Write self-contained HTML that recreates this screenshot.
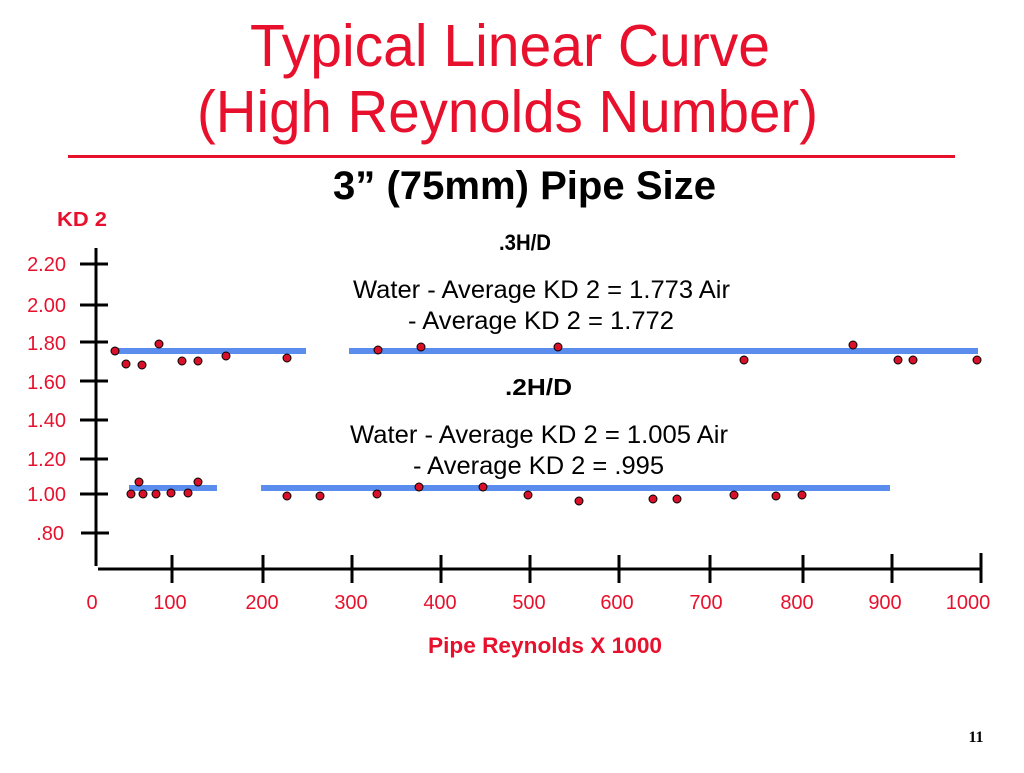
<!DOCTYPE html>
<html><head><meta charset="utf-8"><style>
body{margin:0;background:#fff;width:1024px;height:768px;overflow:hidden;font-family:"Liberation Sans",sans-serif;}
</style></head><body>
<svg width="1024" height="768" xmlns="http://www.w3.org/2000/svg" font-family="Liberation Sans, sans-serif">
<text x="250" y="66" textLength="520" lengthAdjust="spacingAndGlyphs" font-size="59" fill="#e8112d">Typical Linear Curve</text>
<text x="197" y="132" textLength="621" lengthAdjust="spacingAndGlyphs" font-size="59" fill="#e8112d">(High Reynolds Number)</text>
<rect x="68" y="155" width="887" height="3" fill="#e8112d"/>
<text x="333" y="199" textLength="383" lengthAdjust="spacingAndGlyphs" font-size="40" font-weight="bold" fill="#000">3” (75mm) Pipe Size</text>
<text x="57" y="226" textLength="50" lengthAdjust="spacingAndGlyphs" font-size="20" font-weight="bold" fill="#e8112d">KD 2</text>
<g font-size="25" fill="#000">
<text x="499" y="250" textLength="52" lengthAdjust="spacingAndGlyphs" font-weight="bold" font-size="22">.3H/D</text>
<text x="353" y="298" textLength="377" lengthAdjust="spacingAndGlyphs">Water - Average KD 2 = 1.773 Air</text>
<text x="408" y="329" textLength="266" lengthAdjust="spacingAndGlyphs">- Average KD 2 = 1.772</text>
<text x="505" y="395" textLength="67" lengthAdjust="spacingAndGlyphs" font-weight="bold" font-size="23">.2H/D</text>
<text x="350" y="443" textLength="378" lengthAdjust="spacingAndGlyphs">Water - Average KD 2 = 1.005 Air</text>
<text x="413" y="474" textLength="251" lengthAdjust="spacingAndGlyphs">- Average KD 2 = .995</text>
</g>
<g stroke="#000" stroke-width="3">
<line x1="96" y1="248" x2="96" y2="566"/>
<line x1="98" y1="569" x2="982" y2="569"/>
<line x1="80" y1="264" x2="108" y2="264"/><line x1="80" y1="305" x2="108" y2="305"/>
<line x1="80" y1="342" x2="108" y2="342"/><line x1="80" y1="381" x2="108" y2="381"/>
<line x1="80" y1="420" x2="108" y2="420"/><line x1="80" y1="459" x2="108" y2="459"/>
<line x1="80" y1="494" x2="108" y2="494"/><line x1="81" y1="533" x2="109" y2="533"/>
<line x1="172" y1="555" x2="172" y2="583"/><line x1="263" y1="555" x2="263" y2="583"/>
<line x1="352" y1="555" x2="352" y2="583"/><line x1="441" y1="555" x2="441" y2="583"/>
<line x1="530" y1="555" x2="530" y2="583"/><line x1="619" y1="555" x2="619" y2="583"/>
<line x1="710" y1="555" x2="710" y2="583"/><line x1="803" y1="555" x2="803" y2="583"/>
<line x1="892" y1="554" x2="892" y2="583"/><line x1="981" y1="553" x2="981" y2="583"/>
</g>
<g font-size="20" fill="#e8112d" text-anchor="end">
<text x="66" y="271">2.20</text><text x="66" y="312">2.00</text><text x="66" y="350">1.80</text>
<text x="66" y="389">1.60</text><text x="66" y="427">1.40</text><text x="66" y="466">1.20</text>
<text x="66" y="501">1.00</text><text x="64" y="540">.80</text>
</g>
<g font-size="20" fill="#e8112d" text-anchor="middle">
<text x="92" y="609">0</text><text x="170" y="609">100</text><text x="262" y="609">200</text>
<text x="351" y="609">300</text><text x="440" y="609">400</text><text x="529" y="609">500</text>
<text x="617" y="609">600</text><text x="706" y="609">700</text><text x="797" y="609">800</text>
<text x="885" y="609">900</text><text x="968" y="609">1000</text>
</g>
<text x="428" y="653" textLength="234" lengthAdjust="spacingAndGlyphs" font-size="22" font-weight="bold" fill="#e8112d">Pipe Reynolds X 1000</text>
<text x="976" y="742" text-anchor="middle" font-size="16" font-family="Liberation Serif, serif" font-weight="bold">11</text>
<g fill="#5b8def">
<rect x="115" y="348" width="191" height="6"/><rect x="349" y="348" width="629" height="6"/>
<rect x="129" y="485" width="88" height="6"/><rect x="261" y="485" width="629" height="6"/>
</g>
<g fill="#d8102a" stroke="#000" stroke-width="1">
<circle cx="115" cy="351" r="4"/><circle cx="126" cy="364" r="4"/><circle cx="142" cy="365" r="4"/>
<circle cx="159" cy="344" r="4"/><circle cx="182" cy="361" r="4"/><circle cx="198" cy="361" r="4"/>
<circle cx="226" cy="356" r="4"/><circle cx="287" cy="358" r="4"/><circle cx="378" cy="350" r="4"/>
<circle cx="421" cy="347" r="4"/><circle cx="558" cy="347" r="4"/><circle cx="744" cy="360" r="4"/>
<circle cx="853" cy="345" r="4"/><circle cx="898" cy="360" r="4"/><circle cx="913" cy="360" r="4"/>
<circle cx="977" cy="360" r="4"/>
<circle cx="131" cy="494" r="4"/><circle cx="139" cy="482" r="4"/><circle cx="143" cy="494" r="4"/>
<circle cx="156" cy="494" r="4"/><circle cx="171" cy="493" r="4"/><circle cx="188" cy="493" r="4"/>
<circle cx="198" cy="482" r="4"/><circle cx="287" cy="496" r="4"/><circle cx="320" cy="496" r="4"/>
<circle cx="377" cy="494" r="4"/><circle cx="419" cy="487" r="4"/><circle cx="483" cy="487" r="4"/>
<circle cx="528" cy="495" r="4"/><circle cx="579" cy="501" r="4"/><circle cx="653" cy="499" r="4"/>
<circle cx="677" cy="499" r="4"/><circle cx="734" cy="495" r="4"/><circle cx="776" cy="496" r="4"/>
<circle cx="802" cy="495" r="4"/>
</g>
</svg>
</body></html>
